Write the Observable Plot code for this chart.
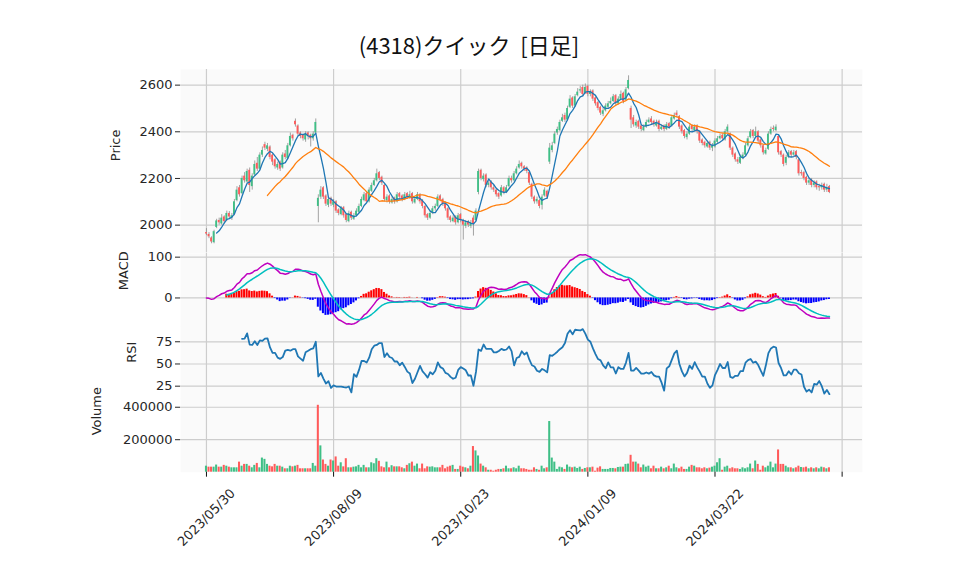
<!DOCTYPE html>
<html><head><meta charset="utf-8">
<script src="https://cdn.jsdelivr.net/npm/d3@7"></script>
<script src="https://cdn.jsdelivr.net/npm/@observablehq/plot@0.6"></script>
<style>
body{margin:0;background:#fff;}
#wrap{position:relative;width:958px;height:575px;overflow:hidden;font-family:"DejaVu Sans",sans-serif;}
#wrap svg{position:absolute;left:0;}
#title{position:absolute;left:0;width:938px;top:31px;line-height:26px;text-align:center;font-family:"Noto Sans CJK JP",sans-serif;font-size:22px;color:#111;white-space:pre;}
</style></head><body><div id="wrap"><div id="title">(4318)クイック  [日足]</div></div>
<script>
const title = "(4318)クイック  [日足]";
const tickIdx = [0, 50, 100, 150, 200, 250];
const tickLabels = ["2023/05/30", "2023/08/09", "2023/10/23", "2024/01/09", "2024/03/22"];
const priceTicks = [2000, 2200, 2400, 2600];
const macdTicks = [0, 100];
const rsiTicks = [25, 50, 75];
const volTicks = [200000, 400000];

const open = [
1968,1960,1945,1925,1990,2020,2005,2035,2020,2050,
2030,2045,2105,2160,2135,2210,2185,2235,2165,2215,
2265,2240,2300,2345,2325,2335,2300,2280,2245,2270,
2245,2305,2285,2340,2385,2445,2425,2395,2385,2365,
2395,2385,2370,2395,2080,2120,2160,2125,2085,2115,
2085,2100,2065,2045,2075,2045,2015,2055,2025,2040,
2055,2080,2105,2135,2100,2145,2170,2190,2225,2205,
2170,2105,2125,2095,2115,2100,2135,2125,2110,2135,
2115,2135,2095,2110,2130,2105,2080,2045,2030,2050,
2070,2080,2125,2110,2095,2070,2035,2015,2035,2010,
2045,2020,1995,2015,1995,2030,2020,2140,2235,2195,
2215,2170,2185,2160,2150,2135,2125,2160,2140,2165,
2200,2190,2220,2245,2265,2250,2245,2225,2175,2120,
2100,2105,2085,2125,2145,2270,2320,2350,2395,2405,
2445,2470,2450,2505,2545,2510,2555,2575,2590,2565,
2595,2560,2575,2545,2525,2505,2475,2490,2505,2520,
2530,2555,2520,2540,2565,2535,2585,2500,2460,2425,
2445,2425,2405,2420,2440,2455,2445,2425,2445,2410,
2425,2410,2435,2425,2455,2480,2465,2425,2405,2375,
2390,2425,2405,2425,2400,2365,2355,2335,2355,2330,
2335,2355,2370,2385,2365,2400,2390,2330,2305,2280,
2265,2285,2300,2340,2375,2405,2380,2400,2365,2340,
2305,2325,2390,2415,2405,2380,2315,2300,2265,2290,
2315,2300,2315,2280,2225,2225,2205,2180,2195,2170,
2185,2165,2160,2175,2150,2165];
const close = [
1962,1950,1928,1972,2018,2010,2030,2015,2050,2035,
2040,2100,2150,2130,2200,2190,2230,2170,2210,2260,
2240,2300,2320,2330,2340,2290,2270,2250,2260,2240,
2300,2290,2340,2380,2370,2430,2390,2380,2370,2390,
2380,2370,2390,2440,2115,2150,2120,2090,2110,2090,
2100,2060,2050,2070,2040,2020,2050,2030,2040,2060,
2080,2110,2130,2100,2150,2170,2190,2220,2200,2180,
2110,2120,2100,2110,2100,2130,2120,2110,2130,2120,
2130,2100,2110,2130,2100,2080,2040,2030,2050,2070,
2080,2120,2110,2090,2070,2030,2020,2030,2010,2040,
2020,2000,2010,2000,2010,2005,2060,2230,2200,2210,
2170,2180,2160,2150,2130,2120,2160,2140,2160,2200,
2190,2220,2240,2260,2250,2240,2230,2180,2120,2100,
2110,2080,2120,2150,2120,2330,2340,2390,2410,2440,
2460,2450,2500,2540,2510,2550,2570,2580,2560,2590,
2560,2570,2540,2520,2500,2480,2490,2510,2520,2530,
2550,2520,2540,2560,2530,2580,2620,2450,2430,2440,
2420,2410,2420,2440,2450,2440,2430,2440,2410,2420,
2410,2430,2420,2460,2470,2470,2420,2400,2380,2390,
2420,2410,2420,2400,2360,2350,2340,2350,2330,2340,
2360,2370,2380,2370,2400,2420,2330,2300,2280,2270,
2290,2300,2340,2370,2400,2380,2400,2360,2340,2310,
2320,2390,2410,2410,2420,2310,2300,2260,2290,2310,
2300,2310,2290,2220,2220,2200,2180,2190,2170,2180,
2160,2160,2170,2150,2160,2140];
const high = [
1985,1968,1950,1978,2025,2030,2045,2040,2060,2058,
2050,2110,2165,2170,2210,2225,2240,2245,2220,2275,
2290,2310,2335,2355,2350,2340,2305,2285,2270,2275,
2310,2320,2350,2395,2390,2455,2430,2400,2390,2400,
2400,2390,2400,2455,2130,2165,2165,2130,2120,2120,
2110,2105,2070,2080,2080,2050,2060,2060,2050,2070,
2090,2120,2140,2140,2160,2180,2200,2240,2230,2210,
2175,2130,2130,2120,2120,2140,2140,2130,2140,2140,
2145,2140,2120,2140,2135,2110,2085,2050,2060,2080,
2090,2130,2130,2115,2100,2075,2040,2040,2040,2050,
2050,2025,2020,2020,2020,2040,2070,2240,2240,2220,
2220,2190,2190,2170,2155,2140,2170,2165,2170,2210,
2210,2230,2250,2275,2270,2255,2250,2230,2180,2125,
2120,2110,2130,2160,2150,2350,2355,2400,2420,2450,
2475,2480,2510,2555,2550,2560,2585,2595,2600,2605,
2600,2580,2580,2550,2530,2510,2500,2520,2530,2545,
2560,2560,2550,2575,2570,2590,2640,2510,2470,2450,
2450,2430,2430,2450,2460,2465,2450,2450,2450,2430,
2430,2440,2440,2470,2480,2490,2470,2430,2410,2400,
2430,2430,2430,2430,2405,2370,2360,2360,2360,2350,
2370,2380,2390,2390,2410,2430,2395,2335,2310,2290,
2300,2310,2350,2380,2410,2410,2420,2405,2370,2345,
2330,2400,2420,2425,2430,2385,2320,2305,2300,2320,
2320,2320,2320,2285,2235,2230,2210,2200,2200,2190,
2190,2175,2180,2180,2175,2170];
const low = [
1955,1942,1920,1920,1985,2000,2000,2005,2015,2025,
2020,2040,2100,2120,2130,2180,2180,2140,2150,2210,
2230,2235,2290,2320,2315,2280,2255,2240,2235,2230,
2240,2280,2280,2335,2360,2420,2380,2370,2360,2355,
2365,2335,2360,2390,2010,2110,2110,2080,2075,2080,
2075,2050,2040,2040,2030,2010,2010,2020,2020,2035,
2050,2075,2100,2095,2095,2140,2165,2185,2190,2170,
2100,2095,2090,2090,2090,2095,2110,2100,2105,2110,
2110,2090,2090,2105,2090,2070,2030,2020,2025,2045,
2060,2075,2100,2080,2060,2020,2010,2010,2000,2005,
2010,1936,1985,1990,1985,1953,2015,2130,2190,2185,
2160,2160,2150,2140,2120,2110,2120,2130,2135,2160,
2180,2185,2215,2240,2240,2230,2220,2170,2110,2090,
2090,2070,2065,2120,2110,2260,2310,2345,2385,2400,
2440,2440,2445,2500,2500,2505,2550,2565,2550,2560,
2550,2550,2530,2510,2490,2470,2465,2485,2500,2515,
2525,2510,2515,2535,2520,2530,2580,2414,2420,2415,
2410,2400,2400,2415,2435,2430,2420,2420,2400,2405,
2400,2405,2410,2420,2450,2460,2410,2390,2370,2365,
2385,2400,2400,2390,2350,2340,2330,2330,2320,2315,
2330,2350,2365,2360,2360,2395,2320,2290,2270,2260,
2260,2280,2295,2335,2370,2370,2375,2350,2330,2300,
2300,2320,2385,2400,2400,2300,2290,2250,2255,2285,
2290,2295,2280,2210,2210,2190,2170,2170,2160,2160,
2150,2145,2150,2140,2140,2135];
const volume = [
37000,31000,31000,31000,44000,31000,31000,42000,37000,31000,
27000,27000,27000,62000,37000,48000,48000,37000,27000,42000,
54000,27000,87000,79000,48000,37000,33000,48000,37000,37000,
31000,21000,21000,37000,33000,37000,42000,21000,21000,21000,
21000,21000,54000,37000,412000,162000,75000,48000,37000,75000,
69000,94000,37000,58000,33000,83000,27000,27000,31000,33000,
42000,27000,42000,27000,27000,58000,52000,83000,67000,33000,
27000,62000,27000,40000,33000,33000,33000,27000,21000,42000,
52000,62000,37000,50000,21000,50000,21000,33000,31000,33000,
27000,27000,27000,42000,21000,31000,37000,42000,17000,17000,
37000,31000,27000,21000,37000,158000,131000,100000,50000,37000,
27000,12000,12000,6000,12000,17000,17000,21000,37000,21000,
21000,27000,21000,37000,21000,21000,17000,12000,12000,27000,
17000,12000,37000,21000,27000,312000,87000,62000,17000,31000,
27000,17000,44000,31000,27000,31000,23000,31000,17000,23000,
27000,27000,31000,6000,25000,33000,17000,17000,17000,23000,
23000,21000,29000,31000,31000,48000,50000,104000,62000,62000,
50000,27000,44000,31000,37000,21000,37000,21000,21000,31000,
21000,27000,37000,21000,50000,27000,21000,31000,17000,17000,
31000,42000,37000,27000,27000,21000,27000,21000,25000,31000,
37000,58000,83000,12000,31000,37000,21000,27000,21000,21000,
17000,27000,21000,27000,50000,21000,69000,48000,12000,37000,
27000,37000,62000,27000,50000,137000,48000,48000,37000,27000,
27000,21000,27000,37000,29000,27000,31000,21000,27000,21000,
27000,21000,31000,27000,21000,27000];

const UP = "#3fbf86", DN = "#ff5a5a";
const GRID = "#cdcdcd", BG = "#fafafa", TXT = "#262626";
const N = close.length;
const xDom = [-10.2, 258];
const rows = d3.range(N).map(i => ({i, o: open[i], c: close[i], h: high[i], l: low[i], v: volume[i],
  vc: i === 0 || close[i] >= close[i - 1] ? UP : DN}));

function sma(a, n) { return a.map((_, i) => i < n - 1 ? null : d3.mean(a.slice(i - n + 1, i + 1))); }
function ema(a, span) { const k = 2 / (span + 1), out = []; a.forEach((v, i) => out.push(i === 0 ? v : k * v + (1 - k) * out[i - 1])); return out; }
const ma5 = sma(close, 5), ma25 = sma(close, 25);
const e12 = ema(close, 12), e26 = ema(close, 26);
const macd = close.map((_, i) => e12[i] - e26[i]);
const sig = ema(macd, 9);
const hist = macd.map((m, i) => m - sig[i]);
const rsi = close.map((_, i) => {
  if (i < 14) return null;
  let g = 0, l = 0;
  for (let k = i - 13; k <= i; k++) { const d = close[k] - close[k - 1]; if (d > 0) g += d; else l -= d; }
  return l === 0 ? 100 : 100 - 100 / (1 + g / l);
});
const pts = (arr, from) => arr.map((v, i) => ({i, v})).filter(d => d.i >= from && d.v != null);

const common = {width: 958, marginLeft: 180, marginRight: 96, marginTop: 0,
  x: {domain: xDom, axis: null}, color: {type: "identity"},
  style: {fontFamily: "DejaVu Sans, sans-serif", fontSize: "13px", background: "transparent", overflow: "visible"}};

function panelBase(ticks, label, dx) {
  return [
    Plot.frame({fill: BG, stroke: null}),
    Plot.gridX(tickIdx, {stroke: GRID, strokeOpacity: 1, strokeWidth: 1.2}),
    Plot.gridY(ticks, {stroke: GRID, strokeOpacity: 1, strokeWidth: 1.2}),
    Plot.axisY(ticks, {anchor: "left", tickSize: 5, tickPadding: 3, label: null, fontSize: 13, color: TXT, tickFormat: d => String(d)}),
    Plot.text([label], {text: d => d, frameAnchor: "left", dx: dx, rotate: -90, fontSize: 13, fill: TXT})
  ];
}

const wrap = document.getElementById("wrap");
function place(svg, top) { svg.style.top = top + "px"; wrap.appendChild(svg); }

const price = Plot.plot({...common, height: 183.4, marginBottom: 0,
  y: {domain: [1881, 2667], axis: null},
  marks: [
    ...panelBase(priceTicks, "Price", -65),
    Plot.ruleX(rows, {x: "i", y1: "l", y2: "h", stroke: "#8c8c8c", strokeWidth: 0.8}),
    Plot.rect(rows, {x1: d => d.i - 0.36, x2: d => d.i + 0.36, y1: "o", y2: "c", fill: d => d.c >= d.o ? UP : DN}),
    Plot.line(pts(ma5, 4), {x: "i", y: "v", stroke: "#1f77b4", strokeWidth: 1.3}),
    Plot.line(pts(ma25, 24), {x: "i", y: "v", stroke: "#ff7f0e", strokeWidth: 1.3})
  ]});
place(price, 69.3);

const macdPlot = Plot.plot({...common, height: 73.3, marginBottom: 0,
  y: {domain: [-70.7, 109], axis: null},
  marks: [
    ...panelBase(macdTicks, "MACD", -57),
    Plot.rect(pts(hist, 8), {x1: d => d.i - 0.4, x2: d => d.i + 0.4, y1: 0, y2: "v", fill: d => d.v >= 0 ? "#ff0000" : "#0000ff"}),
    Plot.line(pts(macd, 0), {x: "i", y: "v", stroke: "#bf00bf", strokeWidth: 1.5}),
    Plot.line(pts(sig, 8), {x: "i", y: "v", stroke: "#00bfbf", strokeWidth: 1.5})
  ]});
place(macdPlot, 252.7);

const rsiPlot = Plot.plot({...common, height: 72.3, marginBottom: 0,
  y: {domain: [10.8, 92.2], axis: null},
  marks: [
    ...panelBase(rsiTicks, "RSI", -49),
    Plot.line(pts(rsi, 14), {x: "i", y: "v", stroke: "#1f77b4", strokeWidth: 1.8})
  ]});
place(rsiPlot, 326);

const volPlot = Plot.plot({...common, height: 176.7, marginBottom: 103,
  y: {domain: [0, 453800], axis: null},
  marks: [
    ...panelBase(volTicks, "Volume", -84),
    Plot.rect(rows, {x1: d => d.i - 0.4, x2: d => d.i + 0.4, y1: 0, y2: "v", fill: "vc"}),
    Plot.axisX(tickIdx, {anchor: "bottom", tickSize: 5, tickFormat: () => "", color: "#111", label: null}),
    Plot.text(tickLabels, {x: (d, k) => tickIdx[k], text: d => d, frameAnchor: "bottom", dy: 45.5, rotate: -45, fontSize: 13, fill: TXT, textAnchor: "middle", lineAnchor: "middle"})
  ]});
place(volPlot, 398.3);
</script></body></html>
